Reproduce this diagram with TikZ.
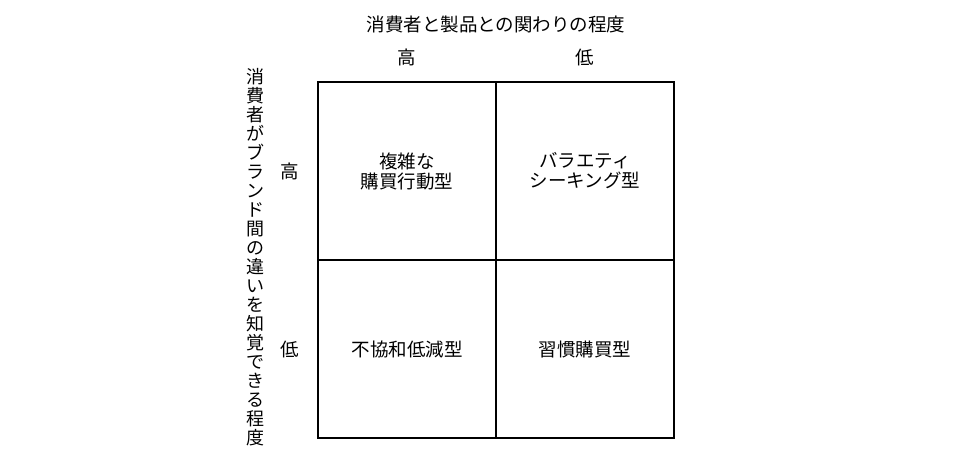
\documentclass[tikz,border=0pt]{standalone}
\usepackage{fontspec}
\setmainfont{Noto Sans CJK JP}
\usetikzlibrary{positioning}

\begin{document}
\begin{tikzpicture}[ x=1pt, y=-1pt, font=\fontsize{18.5}{20}\selectfont,
	cell/.style={draw, line width=1.2pt, minimum width=178pt, minimum height=178pt, inner sep=0pt, outer sep=0pt, align=center} ]
	\useasboundingbox (0,0) rectangle (975,465);
	\node[cell] (hh) at (407,171) {複雑な\\購買行動型};
	\node[cell, right=0pt of hh] (hl) {バラエティ\\シーキング型};
	\node[cell, below=0pt of hh] (lh) {不協和低減型};
	\node[cell, right=0pt of lh] (ll) {習慣購買型};
	\node (title) at (496,24) {消費者と製品との関わりの程度};
	\node (colh) at ([yshift=25pt]hh.north) {高};
	\node (coll) at ([yshift=25pt]hl.north) {低};
	\node (rowh) at ([xshift=-28pt]hh.west) {高};
	\node (rowl) at ([xshift=-28pt]lh.west) {低};
	% axis title, one character per line
	\node[align=center, font=\fontsize{18}{19}\selectfont] (side) at (255,257)
		{消\\費\\者\\が\\ブ\\ラ\\ン\\ド\\間\\の\\違\\い\\を\\知\\覚\\で\\き\\る\\程\\度};
\end{tikzpicture}
\end{document}
